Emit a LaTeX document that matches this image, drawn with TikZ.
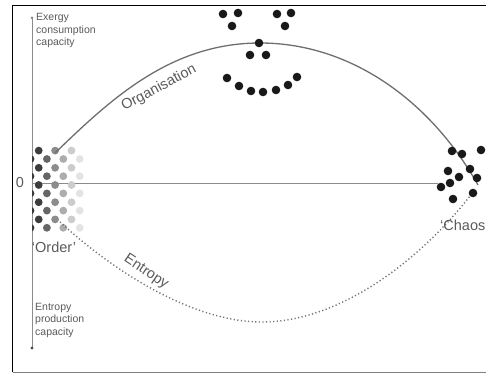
\documentclass[tikz,border=0pt]{standalone}
\usepackage{fontspec}
\setmainfont{Liberation Sans}
\definecolor{labelgray}{HTML}{5A5A5A}
\definecolor{linegray}{HTML}{6E6E6E}
\definecolor{axisgray}{HTML}{8C8C8C}
\begin{document}
\begin{tikzpicture}[x=1pt,y=-1pt,
  smalllbl/.style={text=labelgray,font=\fontsize{10.5}{12.5}\selectfont,align=left,inner sep=0pt},
  biglbl/.style={text=labelgray,font=\fontsize{14.5}{17}\selectfont,inner sep=0pt},
  bdot/.style={circle,fill=black!90,inner sep=0pt,minimum size=8.6pt},
  arcline/.style={draw=linegray,line width=1.3pt},
  entline/.style={draw=black!55,line width=1.4pt,dash pattern=on 1.2pt off 2.4pt},
  axisline/.style={draw=axisgray,line width=0.7pt},
  frameline/.style={draw=black,line width=1.8pt}
]
\useasboundingbox (0,0) rectangle (486,374);
% frame
\draw[frameline] (12.5,372) -- (12.5,5.5) -- (487,5.5);
\draw[draw=gray,line width=1pt] (12.5,372) -- (487,372);
% axis
\coordinate (axtop) at (32,18);
\coordinate (axbot) at (32,348);
\draw[axisline] (axtop) -- (axbot);
\fill[axisgray] (axtop) circle[radius=1.5];
\fill[black!70] (axbot) circle[radius=1.6];
\node[smalllbl,anchor=north west] (exlbl) at (36,13.5) {Exergy\\consumption\\capacity};
\node[smalllbl,anchor=north west] (enlbl) at (35,303) {Entropy\\production\\capacity};
\node[biglbl] (zero) at (20,183) {0};
% horizontal line
\coordinate (hstart) at (32,183);
\coordinate (hend) at (438,183);
\draw[draw=axisgray,line width=0.8pt] (hstart) -- (hend);
% order grid
\begin{scope}
\clip (32,140) rectangle (100,240);
\foreach \i/\c in {0/22,1/24,2/40,3/55,4/68,5/80,6/89}{
  \pgfmathsetmacro{\xx}{30.5+8.2*\i}
  \pgfmathsetmacro{\yo}{mod(\i,2)==0 ? 159 : 150.6}
  \foreach \j in {0,...,4}{
    \fill[fill=white!\c!black] (\xx,\yo+17.2*\j) circle[radius=3.9];
  }
}
\end{scope}
% arc (organisation)
\coordinate (orgstart) at (55,153);
\coordinate (peak) at (260,43);
\coordinate (chaosend) at (478,185);
\draw[arcline] (orgstart) .. controls (110,100) and (170,43) .. (peak)
  .. controls (350,43) and (430,100) .. (chaosend);
% entropy dotted
\coordinate (entstart) at (60,222);
\coordinate (entlow) at (262,322);
\coordinate (entend) at (470,196);
\draw[entline] (entstart) .. controls (110,268) and (190,322) .. (entlow)
  .. controls (340,322) and (420,260) .. (entend);
% smiley dots
\foreach \n/\px/\py in {e1/223/14,e2/238/13,e3/232/26,e4/277/14,e5/291/13,e6/285/26,
  n1/259/43,n2/250/55,n3/266/55,
  m1/227/78,m2/239/86,m3/251/91,m4/263/92,m5/276/90,m6/288/85,m7/297/77}{
  \node[bdot] (\n) at (\px,\py) {};
}
% chaos dots
\foreach \n/\px/\py in {c1/452/151,c2/462/154,c3/481/150,c4/448/171,c5/470/169,
  c6/459/177,c7/477/178,c8/450/183,c9/441/187,c10/473/193,c11/453/199}{
  \node[bdot] (\n) at (\px,\py) {};
}
% labels
\node[biglbl] (order) at (54,247) {‘Order’};
\node[biglbl,anchor=west] (chaos) at (440,225) {‘Chaos’};
\node[biglbl,rotate=28] (orglbl) at (159,88) {Organisation};
\node[biglbl,rotate=-34] (entlbl) at (146,272) {Entropy};
\end{tikzpicture}
\end{document}
